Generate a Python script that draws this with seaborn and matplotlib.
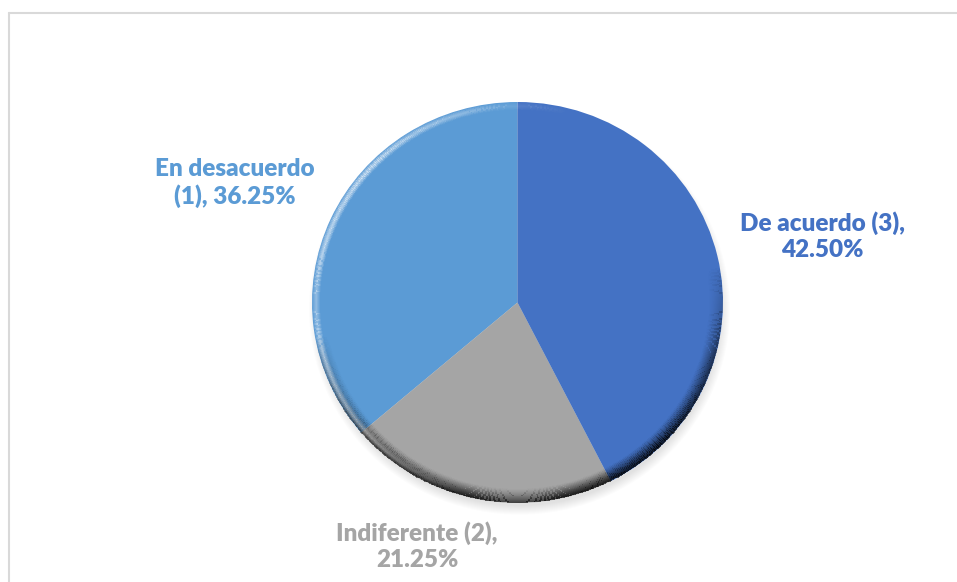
import numpy as np
import matplotlib
matplotlib.use("Agg")
import matplotlib.pyplot as plt
from matplotlib.patches import Wedge
from matplotlib.colors import LinearSegmentedColormap
import seaborn as sns

# datos del grafico
categorias = ["En desacuerdo (1)", "Indiferente (2)", "De acuerdo (3)"]
porcentajes = [36.25, 21.25, 42.50]
colores = ["#5B9BD5", "#A5A5A5", "#4472C4"]
etiquetas = ["En desacuerdo\n(1), 36.25%", "Indiferente (2),\n21.25%", "De acuerdo (3),\n42.50%"]

sns.set_theme(style="white")
plt.rcParams['font.family'] = ['Lato', 'DejaVu Sans']

W, H = 957, 582
fig = plt.figure(figsize=(W / 100, H / 100), dpi=100)
ax = fig.add_axes([0, 0, 1, 1])

# la torta sale un poco achatada en la imagen original
s = 205.5 / 200.5
cx, cy, R = 517.5, (H - 302.5) * s, 205.5


def py(y):
    # fila de pixel (desde arriba) -> coordenada y de datos
    return (H - y) * s


# sombra suave debajo
for k in range(10):
    ax.add_patch(Wedge((cx + 2, cy - 7), R + 5 - k, 0, 360,
                       color="black", alpha=0.010, lw=0))

wedges, _ = ax.pie(porcentajes, colors=colores, startangle=90,
                   center=(cx, cy), radius=R, frame=True,
                   wedgeprops=dict(linewidth=0))

# bisel: borde oscuro abajo/derecha, brillo a la izquierda
ancho = 15
th = np.deg2rad(np.linspace(45, 405, 721))
rr = np.linspace(R - ancho, R - 0.3, 31)
TH, RR = np.meshgrid(th, rr)
X = cx + RR * np.cos(TH)
Y = cy + RR * np.sin(TH)
thc = (th[:-1] + th[1:]) / 2
rc = (rr[:-1] + rr[1:]) / 2
THc, RRc = np.meshgrid(thc, rc)
t = (RRc - (R - ancho)) / ancho
f = np.clip(np.cos(THc - np.deg2rad(-80)), 0, 1) ** 0.7
g = np.clip(np.cos(THc - np.deg2rad(165)), 0, 1)

negro = LinearSegmentedColormap.from_list("n", [(0, 0, 0, 0), (0, 0, 0, 1)])
blanco = LinearSegmentedColormap.from_list("b", [(1, 1, 1, 0), (1, 1, 1, 1)])
ax.pcolormesh(X, Y, 0.65 * f * t ** 1.4, cmap=negro, vmin=0, vmax=1,
              shading="flat", antialiased=False, lw=0)
ax.pcolormesh(X, Y, 0.35 * g * np.clip(1 - np.abs(t - 0.72) / 0.28, 0, 1),
              cmap=blanco, vmin=0, vmax=1, shading="flat",
              antialiased=False, lw=0)

# etiquetas de datos
pos_etiquetas = [(235, 183), (417, 546), (822, 236)]
for txt, col, (px, pyy) in zip(etiquetas, colores, pos_etiquetas):
    ax.text(px, py(pyy), txt, color=col, fontsize=17.5, fontweight="heavy",
            ha="center", va="center", linespacing=1.2)

# marco del area del grafico
ax.plot([8.5, 8.5], [0, py(12.5)], color="#D9D9D9", lw=1.5)
ax.plot([8.5, W], [py(12.5), py(12.5)], color="#D9D9D9", lw=1.5)

ax.set_aspect("auto")
ax.set_xlim(0, W)
ax.set_ylim(0, H * s)
ax.axis("off")

fig.savefig("out.png", dpi=100)
